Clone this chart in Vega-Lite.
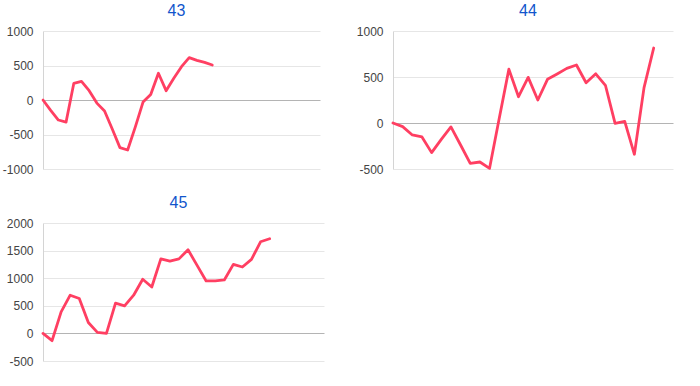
{
  "$schema": "https://vega.github.io/schema/vega-lite/v6.json",
  "background": "white",
  "padding": {"left": 2, "top": 3, "right": 5, "bottom": 5},
  "datasets": {
    "d43": [
      {"i": 0, "v": 0}, {"i": 1, "v": -150}, {"i": 2, "v": -290}, {"i": 3, "v": -320},
      {"i": 4, "v": 240}, {"i": 5, "v": 270}, {"i": 6, "v": 135}, {"i": 7, "v": -45},
      {"i": 8, "v": -160}, {"i": 9, "v": -420}, {"i": 10, "v": -690}, {"i": 11, "v": -725},
      {"i": 12, "v": -390}, {"i": 13, "v": -30}, {"i": 14, "v": 80}, {"i": 15, "v": 387},
      {"i": 16, "v": 135}, {"i": 17, "v": 314}, {"i": 18, "v": 483}, {"i": 19, "v": 615},
      {"i": 20, "v": 575}, {"i": 21, "v": 545}, {"i": 22, "v": 507}
    ],
    "d44": [
      {"i": 0, "v": 0}, {"i": 1, "v": -40}, {"i": 2, "v": -130}, {"i": 3, "v": -152},
      {"i": 4, "v": -322}, {"i": 5, "v": -178}, {"i": 6, "v": -43}, {"i": 7, "v": -239},
      {"i": 8, "v": -438}, {"i": 9, "v": -424}, {"i": 10, "v": -493}, {"i": 11, "v": 50},
      {"i": 12, "v": 585}, {"i": 13, "v": 286}, {"i": 14, "v": 496}, {"i": 15, "v": 250},
      {"i": 16, "v": 475}, {"i": 17, "v": 533}, {"i": 18, "v": 594}, {"i": 19, "v": 630},
      {"i": 20, "v": 438}, {"i": 21, "v": 535}, {"i": 22, "v": 410}, {"i": 23, "v": -4},
      {"i": 24, "v": 18}, {"i": 25, "v": -340}, {"i": 26, "v": 385}, {"i": 27, "v": 815}
    ],
    "d45": [
      {"i": 0, "v": 0}, {"i": 1, "v": -132}, {"i": 2, "v": 390}, {"i": 3, "v": 692},
      {"i": 4, "v": 632}, {"i": 5, "v": 198}, {"i": 6, "v": 18}, {"i": 7, "v": 0},
      {"i": 8, "v": 547}, {"i": 9, "v": 499}, {"i": 10, "v": 692}, {"i": 11, "v": 980},
      {"i": 12, "v": 840}, {"i": 13, "v": 1350}, {"i": 14, "v": 1310}, {"i": 15, "v": 1350},
      {"i": 16, "v": 1515}, {"i": 17, "v": 1233}, {"i": 18, "v": 950}, {"i": 19, "v": 950},
      {"i": 20, "v": 968}, {"i": 21, "v": 1251}, {"i": 22, "v": 1203}, {"i": 23, "v": 1341},
      {"i": 24, "v": 1660}, {"i": 25, "v": 1714}
    ]
  },
  "config": {
    "view": {"stroke": null},
    "font": "Liberation Sans",
    "title": {"font": "Liberation Sans", "fontSize": 16, "fontWeight": "normal", "color": "#1155cc", "frame": "group", "anchor": "middle", "dx": -5, "offset": 6, "baseline": "alphabetic"},
    "line": {"color": "#ff3f62", "strokeWidth": 2.8, "strokeJoin": "round", "strokeCap": "round"}
  },
  "spacing": 20,
  "vconcat": [
    {
      "spacing": 36,
      "hconcat": [
        {
          "title": "43",
          "width": 277,
          "height": 138,
          "data": {"name": "d43"},
          "mark": {"type": "line"},
          "encoding": {
            "x": {"field": "i", "type": "quantitative", "scale": {"domain": [0, 36], "nice": false, "zero": false}, "axis": null},
            "y": {"field": "v", "type": "quantitative", "scale": {"domain": [-1000, 1000], "nice": false},
              "axis": {"values": [-1000, -500, 0, 500, 1000], "title": null, "ticks": false, "labelPadding": 10, "labelFontSize": 12, "labelColor": "#444444", "labelFont": "Liberation Sans", "labelExpr": "toString(datum.value)", "domain": true, "domainColor": "#d4d4d4", "domainWidth": 1, "grid": true, "gridColor": {"condition": {"test": "datum.value === 0", "value": "#b4b4b4"}, "value": "#e6e6e6"}}}
          }
        },
        {
          "title": "44",
          "width": 280,
          "height": 138,
          "data": {"name": "d44"},
          "mark": {"type": "line"},
          "encoding": {
            "x": {"field": "i", "type": "quantitative", "scale": {"domain": [0, 29], "nice": false, "zero": false}, "axis": null},
            "y": {"field": "v", "type": "quantitative", "scale": {"domain": [-500, 1000], "nice": false},
              "axis": {"values": [-500, 0, 500, 1000], "title": null, "ticks": false, "labelPadding": 10, "labelFontSize": 12, "labelColor": "#444444", "labelFont": "Liberation Sans", "labelExpr": "toString(datum.value)", "domain": true, "domainColor": "#d4d4d4", "domainWidth": 1, "grid": true, "gridColor": {"condition": {"test": "datum.value === 0", "value": "#b4b4b4"}, "value": "#e6e6e6"}}}
          }
        }
      ]
    },
    {
      "hconcat": [
        {
          "title": "45",
          "width": 281,
          "height": 138,
          "data": {"name": "d45"},
          "mark": {"type": "line"},
          "encoding": {
            "x": {"field": "i", "type": "quantitative", "scale": {"domain": [0, 31], "nice": false, "zero": false}, "axis": null},
            "y": {"field": "v", "type": "quantitative", "scale": {"domain": [-500, 2000], "nice": false},
              "axis": {"values": [-500, 0, 500, 1000, 1500, 2000], "title": null, "ticks": false, "labelPadding": 10, "labelFontSize": 12, "labelColor": "#444444", "labelFont": "Liberation Sans", "labelExpr": "toString(datum.value)", "domain": true, "domainColor": "#d4d4d4", "domainWidth": 1, "grid": true, "gridColor": {"condition": {"test": "datum.value === 0", "value": "#b4b4b4"}, "value": "#e6e6e6"}}}
          }
        }
      ]
    }
  ]
}
